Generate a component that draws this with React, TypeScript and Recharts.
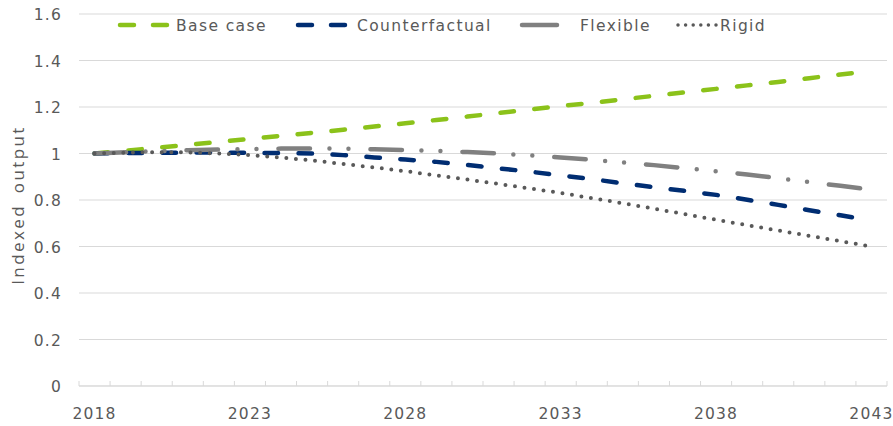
import React from 'react';
import { LineChart, Line, XAxis, YAxis, CartesianGrid } from 'recharts';

const YEARS = [
  '2018', '2019', '2020', '2021', '2022', '2023', '2024', '2025', '2026',
  '2027', '2028', '2029', '2030', '2031', '2032', '2033', '2034', '2035',
  '2036', '2037', '2038', '2039', '2040', '2041', '2042', '2043',
];

const BASE_CASE = [
  1.0, 1.012, 1.025, 1.037, 1.05, 1.063, 1.076, 1.089, 1.102, 1.116, 1.13,
  1.144, 1.159, 1.174, 1.189, 1.204, 1.218, 1.233, 1.248, 1.263, 1.278,
  1.293, 1.308, 1.324, 1.34, 1.355,
];

const COUNTERFACTUAL = [
  1.0, 1.002, 1.003, 1.004, 1.004, 1.003, 1.002, 1.0, 0.993, 0.983, 0.974,
  0.964, 0.951, 0.936, 0.922, 0.906, 0.89, 0.872, 0.855, 0.839, 0.822,
  0.801, 0.779, 0.756, 0.734, 0.712,
];

const FLEXIBLE = [
  1.0, 1.005, 1.01, 1.014, 1.017, 1.019, 1.021, 1.022, 1.021, 1.018, 1.015,
  1.011, 1.006, 1.0, 0.992, 0.983, 0.973, 0.962, 0.95, 0.937, 0.924, 0.91,
  0.894, 0.877, 0.861, 0.844,
];

const RIGID = [
  1.0, 1.004, 1.006, 1.005, 1.0, 0.993, 0.983, 0.97, 0.955, 0.94, 0.924,
  0.906, 0.888, 0.869, 0.85, 0.83, 0.808, 0.786, 0.763, 0.739, 0.715, 0.692,
  0.669, 0.646, 0.623, 0.6,
];

const Y_TICKS = [0, 0.2, 0.4, 0.6, 0.8, 1, 1.2, 1.4, 1.6];
const LABEL_EVERY = 5;

const data = YEARS.map((year, i) => ({
  year,
  base: BASE_CASE[i],
  counterfactual: COUNTERFACTUAL[i],
  flexible: FLEXIBLE[i],
  rigid: RIGID[i],
}));

const W = 893;
const H = 426;
const PLOT_LEFT = 79;
const PLOT_RIGHT = 887;
const SLOT = (PLOT_RIGHT - PLOT_LEFT) / YEARS.length;

const TEXT = '#595959';
const GRID = '#D9D9D9';
const FONT = '"DejaVu Sans", sans-serif';

const GREEN = '#8BC21A';
const NAVY = '#002D72';
const GREY = '#808080';
const DARK = '#595959';

const DASH = '13.5 20.5';
const LONG_DASH_DOT_DOT = '31.5 19.5 0 19 0 22';
const DOTS = '0 9.6';

const XTick = (props: any) => {
  const { x, y, payload } = props;
  const idx = YEARS.indexOf(String(payload.value));
  const left = x - SLOT / 2;
  return (
    <g>
      <line x1={left} x2={left} y1={y - 5} y2={y} stroke={GRID} strokeWidth={1} />
      {idx === YEARS.length - 1 && (
        <line x1={x + SLOT / 2} x2={x + SLOT / 2} y1={y - 5} y2={y} stroke={GRID} strokeWidth={1} />
      )}
      {idx % LABEL_EVERY === 0 && (
        <text
          x={x}
          y={y + 33}
          textAnchor="middle"
          fill={TEXT}
          fontSize={15.5}
          fontFamily={FONT}
          letterSpacing={1.2}
        >
          {payload.value}
        </text>
      )}
    </g>
  );
};

const YTick = (props: any) => {
  const { x, y, payload } = props;
  return (
    <text
      x={x}
      y={y}
      dy="0.4em"
      textAnchor="end"
      fill={TEXT}
      fontSize={15.5}
      fontFamily={FONT}
      letterSpacing={1.2}
    >
      {String(payload.value)}
    </text>
  );
};

const legendItems = [
  { name: 'Base case', color: GREEN, dash: '14 19', x1: 120, x2: 169, width: 4.5, tx: 176 },
  { name: 'Counterfactual', color: NAVY, dash: '14 19', x1: 298, x2: 348, width: 4.5, tx: 357 },
  { name: 'Flexible', color: GREY, dash: undefined, x1: 522, x2: 557, width: 4.5, tx: 580 },
  { name: 'Rigid', color: DARK, dash: '0 7.6', x1: 678, x2: 717, width: 3.5, tx: 720 },
];

const ChartLegend = () => (
  <svg width={W} height={40} style={{ position: 'absolute', left: 0, top: 0 }}>
    {legendItems.map((it) => (
      <g key={it.name}>
        <line
          x1={it.x1}
          x2={it.x2}
          y1={25}
          y2={25}
          stroke={it.color}
          strokeWidth={it.width}
          strokeLinecap="round"
          strokeDasharray={it.dash}
        />
        <text x={it.tx} y={31} fill={TEXT} fontSize={15.5} fontFamily={FONT} letterSpacing={1.4}>
          {it.name}
        </text>
      </g>
    ))}
  </svg>
);

export default function App() {
  return (
    <div style={{ position: 'absolute', left: 0, top: 0, width: W, height: H, background: '#fff' }}>
      <LineChart width={W} height={H} data={data} margin={{ top: 14, right: W - PLOT_RIGHT, bottom: 10, left: 0 }}>
        <CartesianGrid vertical={false} stroke={GRID} strokeWidth={1} />
        <XAxis
          dataKey="year"
          type="category"
          interval={0}
          height={30}
          padding={{ left: SLOT / 2, right: SLOT / 2 }}
          tickLine={false}
          tickSize={0}
          tickMargin={0}
          axisLine={{ stroke: GRID, strokeWidth: 1 }}
          tick={<XTick />}
        />
        <YAxis
          width={PLOT_LEFT}
          domain={[0, 1.6]}
          ticks={Y_TICKS}
          interval={0}
          tickLine={false}
          axisLine={false}
          tickSize={0}
          tickMargin={17}
          tick={<YTick />}
        />
        <Line
          type="linear"
          dataKey="base"
          name="Base case"
          stroke={GREEN}
          strokeWidth={4.5}
          strokeDasharray={DASH}
          strokeLinecap="round"
          dot={false}
          activeDot={false}
          isAnimationActive={false}
        />
        <Line
          type="linear"
          dataKey="counterfactual"
          name="Counterfactual"
          stroke={NAVY}
          strokeWidth={4.5}
          strokeDasharray={DASH}
          strokeLinecap="round"
          dot={false}
          activeDot={false}
          isAnimationActive={false}
        />
        <Line
          type="linear"
          dataKey="flexible"
          name="Flexible"
          stroke={GREY}
          strokeWidth={4.5}
          strokeDasharray={LONG_DASH_DOT_DOT}
          strokeLinecap="round"
          dot={false}
          activeDot={false}
          isAnimationActive={false}
        />
        <Line
          type="linear"
          dataKey="rigid"
          name="Rigid"
          stroke={DARK}
          strokeWidth={4}
          strokeDasharray={DOTS}
          strokeLinecap="round"
          dot={false}
          activeDot={false}
          isAnimationActive={false}
        />
      </LineChart>
      <ChartLegend />
      <svg width={40} height={H} style={{ position: 'absolute', left: 0, top: 0 }}>
        <text
          x={17}
          y={205}
          transform="rotate(-90 17 205)"
          textAnchor="middle"
          dominantBaseline="central"
          fill={TEXT}
          fontSize={17}
          fontFamily='"Open Sans", sans-serif'
          letterSpacing={2.4}
          wordSpacing={4}
        >
          Indexed output
        </text>
      </svg>
    </div>
  );
}
